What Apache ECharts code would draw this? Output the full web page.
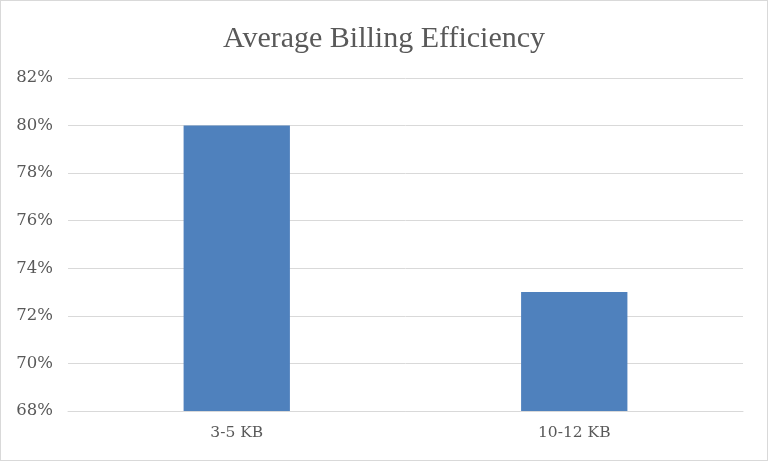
<!DOCTYPE html>
<html>
<head>
<meta charset="UTF-8">
<title>Average Billing Efficiency</title>
<script src="https://cdn.jsdelivr.net/npm/echarts@6/dist/echarts.min.js"></script>
<style>
html, body { margin: 0; padding: 0; background: #fff; }
#main { width: 768px; height: 461px; box-sizing: border-box; border: 1px solid #d9d9d9; }
</style>
</head>
<body>
<div id="main"></div>
<script type="text/javascript">
var categories = ['3-5 KB', '10-12 KB'];
var efficiency = [80, 73];
var yMin = 68, yMax = 82, yStep = 2;

var myChart = echarts.init(document.getElementById('main'));
var option = {
	animation: false,
	title: {
		text: 'Average Billing Efficiency',
		left: 'center',
		top: 18,
		textStyle: { fontFamily: 'Liberation Serif', fontSize: 30, fontWeight: 'normal', color: '#595959' }
	},
	grid: { left: 67, right: 24, top: 77, bottom: 49 },
	xAxis: {
		type: 'category',
		data: categories,
		axisLine: { lineStyle: { color: '#d9d9d9' } },
		axisTick: { show: false },
		axisLabel: { fontFamily: 'DejaVu Serif', fontSize: 15.5, color: '#595959', margin: 14 }
	},
	yAxis: {
		type: 'value',
		min: yMin, max: yMax, interval: yStep,
		axisLine: { show: false },
		axisTick: { show: false },
		splitLine: { lineStyle: { color: '#d9d9d9' } },
		axisLabel: { fontFamily: 'DejaVu Serif', fontSize: 16.5, color: '#595959', margin: 15, formatter: '{value}%' }
	},
	series: [{
		type: 'bar',
		data: efficiency,
		barWidth: '31.5%',
		itemStyle: { color: '#4f81bd' }
	}]
};
myChart.setOption(option);
</script>
</body>
</html>
